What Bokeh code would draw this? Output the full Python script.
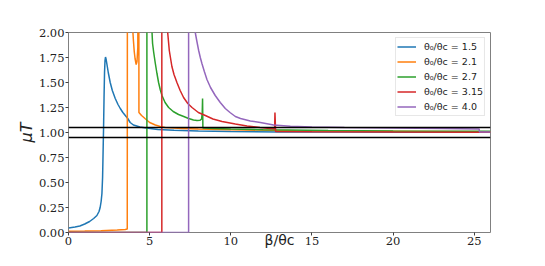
from bokeh.plotting import figure
from bokeh.models import (Range1d, FixedTicker, NumeralTickFormatter, Span,
                          Legend, LegendItem)
from bokeh.embed import file_html
from bokeh.resources import INLINE

# ---------------- data ----------------
labels = ["θ₀/θc = 1.5", "θ₀/θc = 2.1", "θ₀/θc = 2.7", "θ₀/θc = 3.15", "θ₀/θc = 4.0"]
colors = ["#1f77b4", "#ff7f0e", "#2ca02c", "#d62728", "#9467bd"]

x_15 = [0, 0.4, 0.7, 1.0, 1.3, 1.55, 1.75, 1.88, 1.95, 2.01, 2.06, 2.1, 2.12, 2.14, 2.16,
        2.19, 2.22, 2.25, 2.28, 2.32, 2.37, 2.45, 2.57, 2.7, 2.88, 3.05, 3.19, 3.35, 3.5,
        3.65, 3.8, 4.0, 4.4, 4.8, 5.5, 6.5, 8, 10, 13, 17, 21, 26]
y_15 = [0.046, 0.055, 0.065, 0.085, 0.11, 0.14, 0.17, 0.21, 0.25, 0.31, 0.39, 0.55, 0.71,
        0.88, 1.04, 1.35, 1.6, 1.72, 1.755, 1.73, 1.68, 1.60, 1.50, 1.42, 1.34, 1.28, 1.24,
        1.20, 1.17, 1.14, 1.10, 1.075, 1.055, 1.045, 1.03, 1.022, 1.015, 1.01, 1.006, 1.004,
        1.003, 1.002]

x_21 = [0, 1, 2, 3, 3.5, 3.62, 3.63, 3.92, 3.95, 4.0, 4.05, 4.1, 4.17, 4.22, 4.27, 4.29,
        4.33, 4.34, 4.5, 4.73, 5.0, 5.35, 5.65, 5.96, 6.5, 7, 8, 10, 14, 20, 26]
y_21 = [0.012, 0.014, 0.018, 0.024, 0.03, 0.035, 3.0, 3.0, 2.05, 1.92, 1.81, 1.74, 1.68,
        1.71, 1.85, 3.0, 3.0, 1.2, 1.17, 1.137, 1.10, 1.075, 1.06, 1.05, 1.045, 1.04, 1.035,
        1.027, 1.018, 1.012, 1.008]

x_27 = [0, 4.83, 4.83, 5.1, 5.14, 5.18, 5.25, 5.35, 5.45, 5.55, 5.65, 5.76, 5.95, 6.17,
        6.45, 6.78, 7.1, 7.4, 7.7, 7.92, 8.1, 8.2, 8.24, 8.26, 8.28, 9, 10, 12, 13.5, 16,
        20, 26]
y_27 = [0, 0, 3.0, 3.0, 2.02, 1.89, 1.80, 1.69, 1.59, 1.50, 1.43, 1.37, 1.30, 1.25,
        1.21, 1.18, 1.16, 1.14, 1.125, 1.12, 1.122, 1.135, 1.2, 1.34, 1.046, 1.04, 1.035,
        1.028, 1.025, 1.02, 1.015, 1.012]

x_315 = [0, 5.75, 5.75, 6.05, 6.1, 6.21, 6.37, 6.5, 6.68, 6.88, 7.09, 7.35, 7.61, 8.0,
         8.43, 8.9, 9.46, 10.28, 11, 11.8, 12.43, 12.7, 12.72, 12.76, 15, 20, 26]
y_315 = [0, 0, 3.0, 3.0, 2.02, 1.82, 1.66, 1.58, 1.50, 1.42, 1.35, 1.29, 1.25, 1.20,
         1.17, 1.135, 1.11, 1.085, 1.065, 1.05, 1.04, 1.038, 1.2, 1.01, 1.008, 1.005, 1.003]

x_40 = [0, 7.4, 7.4, 7.78, 7.81, 7.9, 8.02, 8.12, 8.22, 8.37, 8.53, 8.75, 9.04, 9.35,
        9.66, 9.95, 10.28, 10.6, 11.2, 11.82, 12.64, 13.67, 15, 17, 20, 23, 25.3, 25.32, 26]
y_40 = [0, 0, 3.0, 3.0, 2.0, 1.92, 1.82, 1.75, 1.69, 1.61, 1.53, 1.45, 1.37, 1.30,
        1.24, 1.20, 1.16, 1.14, 1.115, 1.10, 1.075, 1.062, 1.055, 1.05, 1.045, 1.04,
        1.036, 1.005, 1.004]

hline_values = [1.05, 0.95]
x_ticks = [0, 5, 10, 15, 20, 25]
y_ticks = [0.0, 0.25, 0.5, 0.75, 1.0, 1.25, 1.5, 1.75, 2.0]

# ---------------- figure ----------------
p = figure(width=529, height=250, output_backend="svg", toolbar_location=None,
           x_range=Range1d(0, 26), y_range=Range1d(0, 2),
           min_border_left=68, min_border_right=39, min_border_top=32, min_border_bottom=18)
p.background_fill_color = "white"
p.border_fill_color = "white"
p.outline_line_color = "#808080"
p.outline_line_width = 1
p.grid.visible = False

for ax in (p.xaxis[0], p.yaxis[0]):
    ax.axis_line_color = None
    ax.major_tick_line_color = "#404040"
    ax.major_tick_out = 3
    ax.major_tick_in = 0
    ax.minor_tick_line_color = None
    ax.major_label_text_font = "DejaVu Serif"
    ax.major_label_text_font_size = "11.5px"
    ax.major_label_text_color = "#222222"
    ax.major_label_standoff = 1

p.xaxis[0].ticker = FixedTicker(ticks=x_ticks)
p.yaxis[0].ticker = FixedTicker(ticks=y_ticks)
p.yaxis[0].formatter = NumeralTickFormatter(format="0.00")

p.xaxis[0].axis_label = "β/θc"
p.xaxis[0].axis_label_text_font = "DejaVu Sans"
p.xaxis[0].axis_label_text_font_style = "normal"
p.xaxis[0].axis_label_text_font_size = "14px"
p.xaxis[0].axis_label_text_color = "#222222"
p.xaxis[0].axis_label_standoff = -16

p.yaxis[0].axis_label = "μT"
p.yaxis[0].axis_label_text_font = "DejaVu Sans"
p.yaxis[0].axis_label_text_font_style = "italic"
p.yaxis[0].axis_label_text_font_size = "16px"
p.yaxis[0].axis_label_text_color = "#222222"
p.yaxis[0].axis_label_standoff = 0

series = [(x_15, y_15), (x_21, y_21), (x_27, y_27), (x_315, y_315), (x_40, y_40)]
items = []
for (xs, ys), c, lab in zip(series, colors, labels):
    r = p.line(xs, ys, line_color=c, line_width=1.5)
    items.append(LegendItem(label=lab, renderers=[r]))

for hv in hline_values:
    p.add_layout(Span(location=hv, dimension="width", line_color="black", line_width=1.5))

legend = Legend(items=items, location="top_right")
legend.margin = 5
legend.padding = 1
legend.spacing = 0
legend.glyph_height = 15
legend.label_height = 15
legend.glyph_width = 19
legend.label_standoff = 8
legend.label_text_font = "DejaVu Sans"
legend.label_text_font_size = "9.5px"
legend.label_text_color = "#222222"
legend.border_line_color = "#d0d0d0"
legend.border_line_width = 1
legend.background_fill_alpha = 0.85
p.add_layout(legend)

open("out.html", "w").write(file_html(p, INLINE))
